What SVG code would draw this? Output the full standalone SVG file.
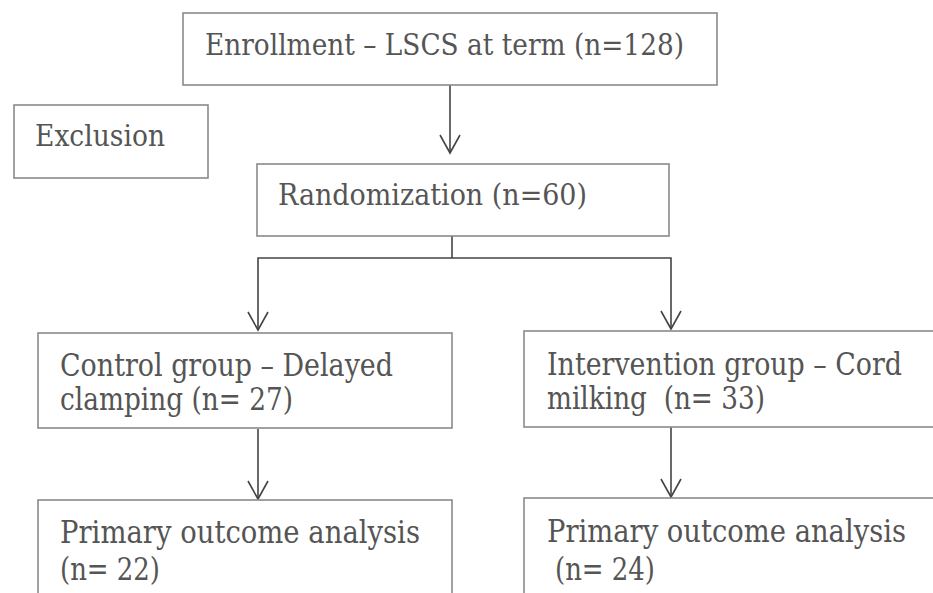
<svg xmlns="http://www.w3.org/2000/svg" width="933" height="593" viewBox="0 0 933 593">
<style>
.box{fill:#fff;stroke:#8a8a8a;stroke-width:1.6}
.t{font-family:"DejaVu Serif","Liberation Serif",serif;font-size:30px;fill:#555}
.c{font-family:"DejaVu Serif Condensed","DejaVu Serif","Liberation Serif",serif;font-size:31px;fill:#555;white-space:pre}
.ln{fill:none;stroke:#444;stroke-width:1.6}
</style>
<defs>
<marker id="ah" markerWidth="24" markerHeight="24" refX="11" refY="19" orient="0" markerUnits="userSpaceOnUse">
<path d="M1,1 L11,19 L21,1" fill="none" stroke="#444" stroke-width="1.6"/>
</marker>
</defs>
<rect width="933" height="593" fill="#fff"/>
<g id="connectors">
<line class="ln" x1="450" y1="85" x2="450" y2="153" marker-end="url(#ah)"/>
<polyline class="ln" points="452,236 452,258"/>
<path class="ln" d="M452,258 H258 V330" marker-end="url(#ah)"/>
<path class="ln" d="M452,258 H671 V329" marker-end="url(#ah)"/>
<line class="ln" x1="258" y1="429" x2="258" y2="499" marker-end="url(#ah)"/>
<line class="ln" x1="671" y1="427" x2="671" y2="497" marker-end="url(#ah)"/>
</g>
<g id="enrollment">
<rect class="box" x="183" y="13" width="534" height="72"/>
<text class="t" x="205" y="55" textLength="479" lengthAdjust="spacingAndGlyphs">Enrollment – LSCS at term (n=128)</text>
</g>
<g id="exclusion">
<rect class="box" x="14" y="105" width="194" height="73"/>
<text class="t" x="35" y="146" textLength="130" lengthAdjust="spacingAndGlyphs">Exclusion</text>
</g>
<g id="randomization">
<rect class="box" x="257" y="164" width="412" height="72"/>
<text class="t" x="278" y="205" textLength="309" lengthAdjust="spacingAndGlyphs">Randomization (n=60)</text>
</g>
<g id="control">
<rect class="box" x="38" y="333" width="414" height="95"/>
<text class="c" x="60" y="376" textLength="333" lengthAdjust="spacingAndGlyphs">Control group – Delayed</text>
<text class="c" x="60" y="410" textLength="233" lengthAdjust="spacingAndGlyphs">clamping (n= 27)</text>
</g>
<g id="intervention">
<rect class="box" x="524" y="331" width="420" height="96"/>
<text class="c" x="547" y="375" textLength="355" lengthAdjust="spacingAndGlyphs">Intervention group – Cord</text>
<text class="c" x="547" y="409" textLength="218" lengthAdjust="spacingAndGlyphs">milking  (n= 33)</text>
</g>
<g id="primary-control">
<rect class="box" x="38" y="500" width="414" height="120"/>
<text class="c" x="60" y="543" textLength="360" lengthAdjust="spacingAndGlyphs">Primary outcome analysis</text>
<text class="c" x="60" y="580" textLength="100" lengthAdjust="spacingAndGlyphs">(n= 22)</text>
</g>
<g id="primary-intervention">
<rect class="box" x="524" y="498" width="420" height="120"/>
<text class="c" x="547" y="542" textLength="359" lengthAdjust="spacingAndGlyphs">Primary outcome analysis</text>
<text class="c" x="555" y="580" textLength="100" lengthAdjust="spacingAndGlyphs">(n= 24)</text>
</g>
</svg>
